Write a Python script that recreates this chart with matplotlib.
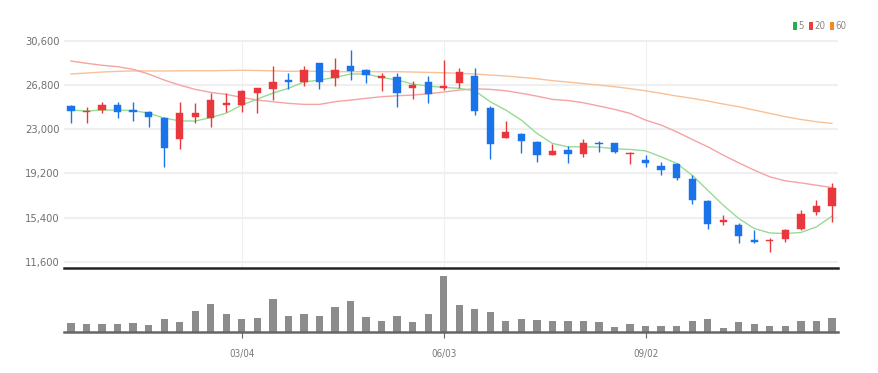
import matplotlib
matplotlib.use("Agg")
import matplotlib.pyplot as plt
from matplotlib.patches import Rectangle

# weekly candles
opens = [24980, 24450, 24640, 25040, 24640, 24470, 23950, 22120, 24070, 23930,
         25100, 25070, 26130, 26420, 27220, 27070, 28660, 27370, 28420, 28080,
         27420, 27500, 26510, 27070, 26560, 26940, 27560, 24790, 22210, 22550,
         21920, 20770, 21200, 20860, 21830, 21830, 20860, 20340, 19830, 19990,
         18710, 16840, 15040, 14760, 13460, 13400, 13580, 14470, 15870, 16410]
closes = [24530, 24560, 25040, 24470, 24470, 24060, 21400, 24360, 24360, 25500,
          25220, 26300, 26510, 27080, 27020, 28080, 27070, 28080, 28020, 27680,
          27560, 26080, 26790, 25990, 26680, 27940, 24560, 21720, 22720, 21980,
          20770, 21140, 20860, 21830, 21690, 21060, 20970, 20110, 19480, 18770,
          16900, 14900, 15180, 13810, 13290, 13520, 14380, 15680, 16390, 17910]
highs = [25040, 24870, 25330, 25300, 25360, 24550, 24010, 25360, 25270, 26080,
         26080, 26360, 26560, 28420, 27850, 28420, 28710, 29090, 29800, 28140,
         27850, 27850, 27140, 27560, 28940, 28230, 28230, 24980, 23720, 22640,
         22000, 21720, 21550, 22120, 21970, 21830, 21060, 20770, 20200, 20060,
         19050, 16900, 15610, 14950, 14380, 13660, 14440, 16100, 16900, 18390]
lows = [23550, 23550, 24410, 23930, 23720, 23200, 19770, 21310, 23550, 23210,
        24470, 24500, 24410, 25500, 26420, 26730, 26420, 26700, 27220, 26990,
        26300, 24870, 25560, 25270, 26360, 26510, 24210, 20400, 22210, 20920,
        20200, 20770, 20110, 20630, 21000, 20970, 19990, 19770, 19050, 18680,
        16560, 14470, 14760, 13230, 13230, 12460, 13320, 14380, 15610, 15040]
volumes = [28, 24, 24, 24, 28, 21, 39, 29, 63, 85,
           55, 39, 43, 100, 49, 55, 48, 75, 93, 44,
           33, 48, 29, 53, 167, 80, 68, 59, 32, 39,
           37, 33, 33, 34, 29, 16, 24, 19, 19, 19,
           33, 39, 13, 29, 24, 19, 19, 34, 34, 43]
volumes = [v * 1000 for v in volumes]

ma5 = [24640, 24560, 24640, 24640, 24600, 24380, 23950, 23720, 23700, 24000,
       24380, 25070, 25590, 26100, 26510, 27050, 27220, 27450, 27740, 27740,
       27450, 27220, 26880, 26700, 26590, 26510, 26300, 25360, 24640, 23780,
       22640, 21780, 21490, 21490, 21460, 21320, 21260, 21140, 20630, 20060,
       19050, 17760, 16470, 15330, 14470, 14090, 14040, 14130, 14610, 15530]
ma20 = [28850, 28660, 28490, 28370, 28140, 27740, 27220, 26790, 26420, 26160,
        25990, 25730, 25500, 25360, 25220, 25130, 25130, 25360, 25500, 25650,
        25790, 25870, 25930, 26040, 26190, 26360, 26470, 26420, 26300, 26080,
        25840, 25560, 25460, 25270, 24990, 24700, 24360, 23780, 23350, 22780,
        22120, 21490, 20770, 20110, 19480, 18910, 18560, 18390, 18190, 17990]
ma60 = [27740, 27820, 27910, 27970, 28000, 28000, 28000, 28010, 28020, 28020,
        28040, 28060, 28040, 28010, 27970, 27980, 27970, 27940, 27940, 27940,
        27940, 27940, 27910, 27880, 27850, 27800, 27740, 27650, 27570, 27450,
        27330, 27170, 27050, 26920, 26790, 26650, 26480, 26300, 26080, 25850,
        25650, 25420, 25160, 24930, 24640, 24360, 24070, 23840, 23640, 23500]

price_ticks = [11600, 15400, 19200, 23000, 26800, 30600]
xtick_idx = [11, 24, 37]
xtick_labels = ["03/04", "06/03", "09/02"]

UP = "#e8383d"
DOWN = "#1a73e8"
FONT = dict(family="DejaVu Sans", stretch="condensed")

fig = plt.figure(figsize=(8.79, 3.73), dpi=100)
ax = fig.add_axes([64 / 879, 1 - 268 / 373, 774 / 879, 228 / 373])
axv = fig.add_axes([64 / 879, 1 - 332 / 373, 774 / 879, 62 / 373], sharex=ax)

n = len(opens)
xs = list(range(n))
w = 0.47

for t in price_ticks:
    ax.axhline(t, color="#efefef", lw=1.5, zorder=0)
for i in xtick_idx:
    ax.axvline(i, color="#efefef", lw=0.8, zorder=0)

ax.plot(xs, ma60, color="#f8c197", lw=1.0, zorder=1)
ax.plot(xs, ma20, color="#f5a3a3", lw=1.0, zorder=1)
ax.plot(xs, ma5, color="#95dc95", lw=1.0, zorder=1)

for i in xs:
    o, c, h, l = opens[i], closes[i], highs[i], lows[i]
    col = UP if c >= o else DOWN
    ax.vlines(i, l, h, color=col, lw=1.0, zorder=2)
    bot = min(o, c)
    ht = max(abs(c - o), 110)
    ax.add_patch(Rectangle((i - w / 2, bot), w, ht, facecolor=col,
                           edgecolor=col, lw=0.3, zorder=3))

ax.set_xlim(-0.45, n - 1 + 0.39)
ax.set_ylim(11080, 30660)
ax.set_yticks(price_ticks)
ax.set_yticklabels([f"{t:,}" for t in price_ticks], fontsize=8,
                   color="#707070", **FONT)
ax.tick_params(axis="y", length=0, pad=3)
ax.tick_params(axis="x", length=0, labelbottom=False)
for s in ["top", "right", "left"]:
    ax.spines[s].set_visible(False)
ax.spines["bottom"].set_color("#222222")
ax.spines["bottom"].set_linewidth(1.8)

axv.bar(xs, volumes, width=w, color="#8c8c8c", zorder=2)
axv.set_ylim(0, max(volumes) * 1.11)
axv.set_yticks([])
for s in ["top", "right", "left"]:
    axv.spines[s].set_visible(False)
axv.spines["bottom"].set_color("#666666")
axv.spines["bottom"].set_linewidth(1.8)
axv.set_xticks(xtick_idx)
axv.set_xticklabels(xtick_labels, fontsize=7, color="#777777", **FONT)
axv.tick_params(axis="x", length=4, color="#666666", pad=8)

# legend squares top right
legend = [("5", "#22b14c"), ("20", "#e84040"), ("60", "#f08a24")]
lx = 793
for lab, col in legend:
    fig.patches.append(Rectangle((lx / 879, 1 - 30 / 373), 4 / 879, 8 / 373,
                                 transform=fig.transFigure, facecolor=col,
                                 edgecolor="none"))
    fig.text((lx + 5.5) / 879, 1 - 26 / 373, lab, fontsize=7,
             color="#888888", va="center", ha="left", **FONT)
    lx += 6 + 5 * len(lab) + 5

fig.savefig("out.png", dpi=100)
